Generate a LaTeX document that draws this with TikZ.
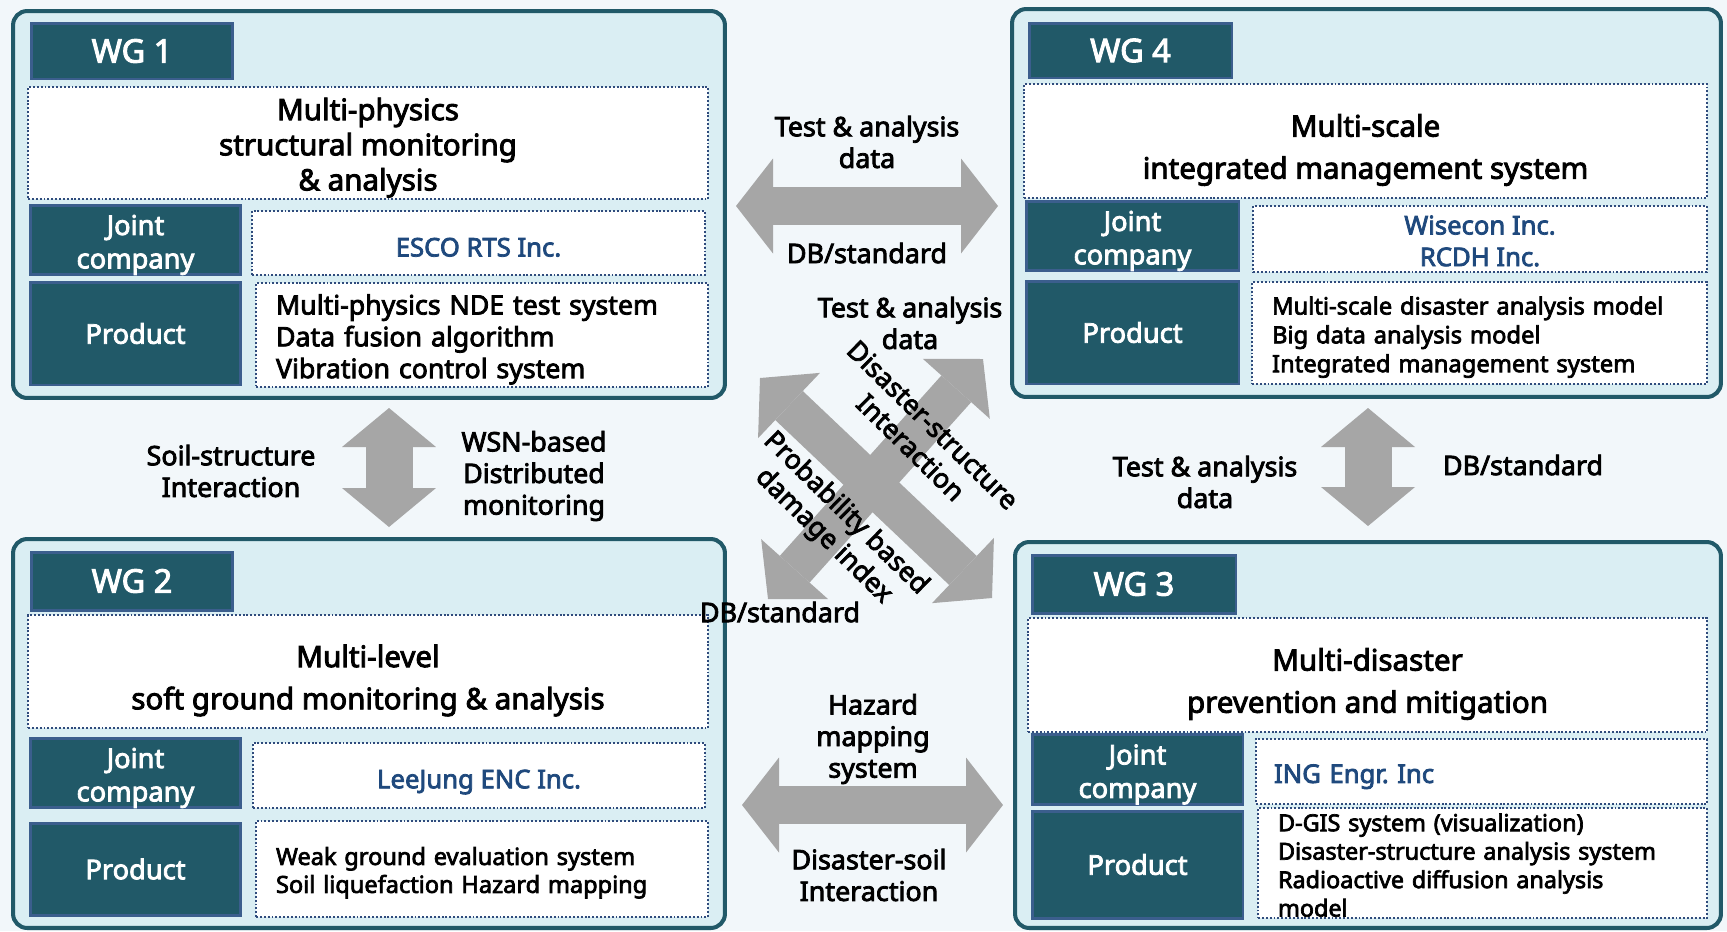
\documentclass[tikz,border=0pt]{standalone}
\usepackage{fontspec}
\setmainfont{Noto Sans}[AutoFakeBold=3]
\usepackage{tikz}
\usetikzlibrary{arrows.meta}
\definecolor{paper}{HTML}{F2F7FA}
\definecolor{panelfill}{HTML}{DAEEF3}
\definecolor{wgteal}{HTML}{215968}
\definecolor{wgedge}{HTML}{3B5E8D}
\definecolor{dotblue}{HTML}{2F4B7C}
\definecolor{firm}{HTML}{1F497D}
\definecolor{arrowgray}{HTML}{A6A6A6}
\newcommand{\topgap}[1]{\rule{0pt}{#1}}
\frenchspacing

\begin{document}
\begin{tikzpicture}[x=0.02cm,y=-0.02cm,
  panel/.style={draw=wgteal,line width=2.3pt,fill=panelfill,rounded corners=8pt,inner sep=0pt},
  tag/.style={draw=wgedge,line width=1.7pt,fill=wgteal,text=white,inner sep=0pt,
    font=\fontsize{18.5}{22}\selectfont\bfseries},
  role/.style={tag,align=center,font=\fontsize{15.5}{19}\selectfont\bfseries},
  dotbox/.style={draw=dotblue,line width=1pt,dash pattern=on 1.1pt off 1.1pt,fill=white,inner sep=0pt},
  headline/.style={dotbox,align=center,font=\fontsize{16.8}{24}\selectfont\bfseries},
  firmbox/.style={dotbox,align=center,text=firm,font=\fontsize{14.6}{18}\selectfont\bfseries},
  products/.style={dotbox,align=left,inner xsep=0.4cm,font=\fontsize{13.3}{16.2}\selectfont\bfseries},
  note/.style={align=center,inner sep=0pt,font=\fontsize{15.3}{18}\selectfont\bfseries},
  wide/.style={draw=arrowgray,line width=0.76cm,
    arrows={Triangle[length=0.74cm,width=1.9cm,line width=0pt]-Triangle[length=0.74cm,width=1.9cm,line width=0pt]}},
  tall/.style={wide,line width=0.94cm,
    arrows={Triangle[length=0.78cm,width=1.88cm,line width=0pt]-Triangle[length=0.78cm,width=1.88cm,line width=0pt]}},
  slant/.style={wide,line width=0.8cm,
    arrows={Triangle[length=0.8cm,width=1.8cm,line width=0pt]-Triangle[length=0.8cm,width=1.8cm,line width=0pt]}}]
\useasboundingbox (0,0) rectangle (1727,931);
\fill[paper] (0,0) rectangle (1727,931);

% WG 1
\node[panel,minimum width=14.24cm,minimum height=7.74cm] (wg1) at (369,204.5) {};
\node[tag,minimum width=4.04cm,minimum height=1.12cm] (tag1) at (132,51) {WG 1};
\node[headline,minimum width=13.6cm,minimum height=2.24cm,font=\fontsize{16.8}{20}\selectfont\bfseries] (aim1) at (368,143)
  {\topgap{18pt}Multi-physics\\structural monitoring\\\& analysis};
\node[role,minimum width=4.22cm,minimum height=1.32cm] (joint1) at (135.5,240) {\topgap{17pt}Joint\\company};
\node[firmbox,minimum width=9.06cm,minimum height=1.28cm] (firm1) at (478.5,243) {\topgap{15.5pt}ESCO RTS Inc.};
\node[role,minimum width=4.22cm,minimum height=2.06cm] (prod1) at (135.5,333.5) {Product};
\node[products,text width=8.24cm,minimum height=2.08cm,font=\fontsize{15.2}{18.1}\selectfont\bfseries] (list1) at (482,335)
  {\topgap{16.5pt}Multi-physics NDE test system\\Data fusion algorithm\\Vibration control system};

% WG 4
\node[panel,minimum width=14.18cm,minimum height=7.76cm] (wg4) at (1366.5,203) {};
\node[tag,minimum width=4.06cm,minimum height=1.1cm] (tag4) at (1130.5,50.5) {WG 4};
\node[headline,minimum width=13.66cm,minimum height=2.28cm] (aim4) at (1365.5,141)
  {\topgap{23pt}Multi-scale\\integrated management system};
\node[role,minimum width=4.26cm,minimum height=1.36cm] (joint4) at (1132.5,236) {\topgap{17pt}Joint\\company};
\node[firmbox,minimum width=9.08cm,minimum height=1.32cm] (firm4) at (1480,239) {\topgap{13pt}Wisecon Inc.\\RCDH Inc.};
\node[role,minimum width=4.26cm,minimum height=2.06cm] (prod4) at (1132.5,332.5) {Product};
\node[products,text width=8.3cm,minimum height=2.04cm,font=\fontsize{13.5}{16.4}\selectfont\bfseries] (list4) at (1479.5,333)
  {\topgap{15pt}Multi-scale disaster analysis model\\Big data analysis model\\Integrated management system};

% WG 2
\node[panel,minimum width=14.24cm,minimum height=7.78cm] (wg2) at (369,733.5) {};
\node[tag,minimum width=4.04cm,minimum height=1.16cm] (tag2) at (132,581) {WG 2};
\node[headline,minimum width=13.6cm,minimum height=2.26cm] (aim2) at (368,671.5)
  {\topgap{23pt}Multi-level\\soft ground monitoring \& analysis};
\node[role,minimum width=4.22cm,minimum height=1.36cm] (joint2) at (135.5,773) {\topgap{17pt}Joint\\company};
\node[firmbox,minimum width=9.04cm,minimum height=1.3cm] (firm2) at (479,775.5) {\topgap{18pt}LeeJung ENC Inc.};
\node[role,minimum width=4.22cm,minimum height=1.84cm] (prod2) at (135.5,869) {Product};
\node[products,text width=8.24cm,minimum height=1.92cm,font=\fontsize{13.4}{15.9}\selectfont\bfseries] (list2) at (482,869)
  {\topgap{14.5pt}Weak ground evaluation system\\Soil liquefaction Hazard mapping};

% WG 3
\node[panel,minimum width=14.12cm,minimum height=7.72cm] (wg3) at (1368,735) {};
\node[tag,minimum width=4.08cm,minimum height=1.16cm] (tag3) at (1134,584) {WG 3};
\node[headline,minimum width=13.58cm,minimum height=2.28cm] (aim3) at (1367.5,675)
  {\topgap{23pt}Multi-disaster\\prevention and mitigation};
\node[role,minimum width=4.22cm,minimum height=1.34cm] (joint3) at (1137.5,769.5) {\topgap{17pt}Joint\\company};
\node[firmbox,align=left,inner xsep=0.36cm,text width=8.3cm,minimum height=1.3cm] (firm3) at (1481.5,771.5) {\topgap{16.5pt}ING Engr. Inc};
\node[role,minimum width=4.22cm,minimum height=2.14cm] (prod3) at (1137.5,864.5) {Product};
\node[products,text width=8.18cm,minimum height=2.2cm,inner ysep=0pt,font=\fontsize{13.3}{16.2}\selectfont\bfseries] (list3) at (1482.5,863)
  {\topgap{12.5pt}D-GIS system (visualization)\\Disaster-structure analysis system\\Radioactive diffusion analysis\\model};

% exchange arrows
\coordinate (w1e) at (736,206);  \coordinate (w4w) at (998,206);
\coordinate (w1s) at (389,408);  \coordinate (w2n) at (389,527);
\coordinate (w4s) at (1368,408); \coordinate (w3n) at (1368,526);
\coordinate (w2e) at (742,805);  \coordinate (w3w) at (1003,805);
\coordinate (x1) at (760,378);   \coordinate (x3) at (992,598);
\coordinate (x4) at (983,359);   \coordinate (x2) at (768,599);
\draw[wide] (w1e) -- (w4w);
\draw[tall] (w1s) -- (w2n);
\draw[tall] (w4s) -- (w3n);
\draw[wide] (w2e) -- (w3w);
\draw[slant] (x1) -- (x3);
\draw[slant] (x4) -- (x2);

% what is exchanged
\node[note] (n14a) at (867,142) {Test \& analysis\\data};
\node[note] (n14b) at (867,253) {DB/standard};
\node[note] (n12a) at (231,471) {Soil-structure\\Interaction};
\node[note] (n12b) at (534,476) {WSN-based\\Distributed\\monitoring};
\node[note] (n43a) at (1205,482) {Test \& analysis\\data};
\node[note] (n43b) at (1523,465) {DB/standard};
\node[note] (n23a) at (873,739) {Hazard\\mapping\\system};
\node[note] (n23b) at (869,875) {Disaster-soil\\Interaction};
\node[note] (nxa) at (910,323) {Test \& analysis\\data};
\node[note,rotate=-44.5] (nxb) at (922,436) {Disaster-structure\\Interaction};
\node[note,rotate=-44.5] (nxc) at (834.5,525) {Probability based\\damage index};
\node[note] (nxd) at (780,612) {DB/standard};
\end{tikzpicture}
\end{document}
